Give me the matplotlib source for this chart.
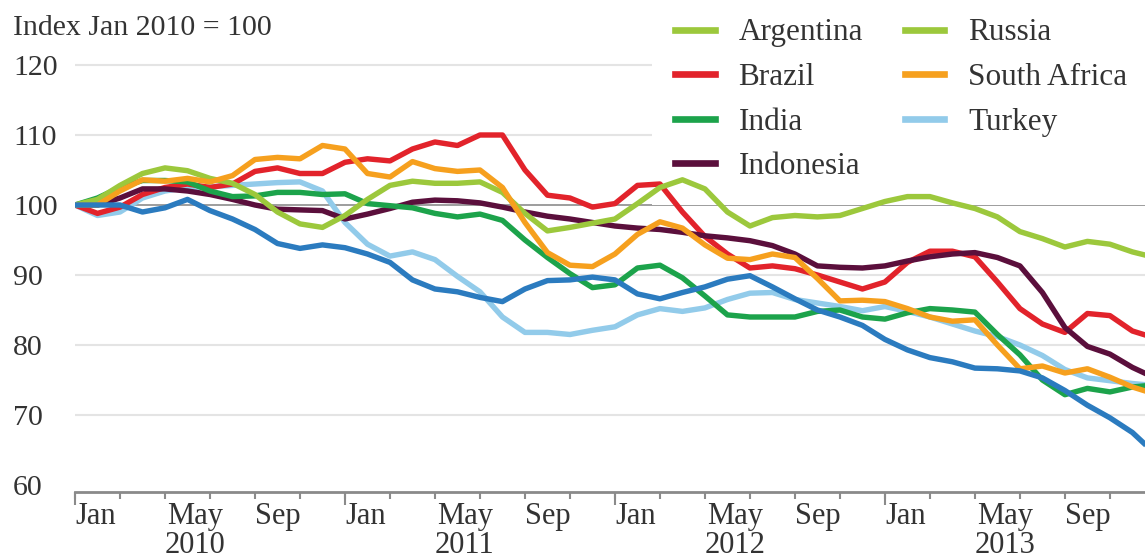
import matplotlib.pyplot as plt
import numpy as np
from matplotlib.lines import Line2D

plt.rcParams['font.family'] = ['Liberation Serif', 'DejaVu Serif']

# monthly index, Jan 2010 = 0 ... Jan 2014 = 48
months = np.arange(49)

argentina = [100, 100, 100, 99.0, 99.6, 100.8, 99.2, 98.0, 96.5, 94.5,
             93.8, 94.3, 93.9, 93.0, 91.8, 89.3, 88.0, 87.6, 86.8, 86.2,
             88.0, 89.2, 89.3, 89.7, 89.3, 87.3, 86.6, 87.5, 88.3, 89.4,
             89.9, 88.3, 86.6, 85.0, 84.0, 82.8, 80.8, 79.3, 78.2, 77.6,
             76.7, 76.6, 76.3, 75.3, 73.5, 71.4, 69.6, 67.5, 64.5]
brazil = [100, 98.8, 99.7, 101.5, 102.5, 103.0, 102.5, 103.0, 104.8, 105.3,
          104.5, 104.5, 106.1, 106.6, 106.3, 108.0, 109.0, 108.5, 110.0, 110.0,
          105.0, 101.4, 101.0, 99.7, 100.2, 102.8, 103.0, 99.0, 95.5, 93.0,
          91.0, 91.3, 90.9, 90.0, 89.0, 88.0, 89.0, 91.8, 93.4, 93.4,
          92.6, 89.0, 85.2, 83.0, 81.8, 84.5, 84.2, 82.0, 81.0]
india = [100, 101.0, 102.5, 103.5, 103.5, 103.3, 102.0, 101.2, 101.3, 101.8,
         101.8, 101.5, 101.6, 100.2, 99.9, 99.6, 98.8, 98.3, 98.7, 97.8,
         95.0, 92.5, 90.2, 88.2, 88.6, 91.0, 91.4, 89.6, 87.0, 84.3,
         84.0, 84.0, 84.0, 84.8, 85.0, 84.0, 83.7, 84.6, 85.2, 85.0,
         84.7, 81.5, 78.6, 75.0, 72.9, 73.8, 73.3, 74.0, 74.3]
indonesia = [100, 100, 101.0, 102.3, 102.3, 102.0, 101.5, 100.8, 100.0, 99.4,
             99.3, 99.2, 98.0, 98.7, 99.5, 100.4, 100.7, 100.6, 100.3, 99.7,
             99.0, 98.4, 98.0, 97.5, 97.0, 96.7, 96.5, 96.1, 95.6, 95.3,
             94.9, 94.2, 93.0, 91.3, 91.1, 91.0, 91.3, 92.0, 92.6, 93.0,
             93.2, 92.5, 91.3, 87.5, 82.5, 79.8, 78.7, 76.8, 75.3]
russia = [100, 100.8, 102.8, 104.5, 105.3, 104.9, 103.8, 103.1, 101.5, 99.0,
          97.3, 96.8, 98.5, 100.8, 102.8, 103.4, 103.1, 103.1, 103.3, 101.8,
          98.8, 96.3, 96.8, 97.4, 98.0, 100.2, 102.5, 103.6, 102.3, 99.0,
          97.0, 98.2, 98.5, 98.3, 98.5, 99.5, 100.5, 101.2, 101.2, 100.3,
          99.5, 98.3, 96.2, 95.2, 94.0, 94.8, 94.4, 93.3, 92.5]
south_africa = [100, 100, 102.0, 103.6, 103.4, 103.8, 103.3, 104.2, 106.5, 106.8,
                106.6, 108.5, 108.0, 104.5, 104.0, 106.2, 105.2, 104.8, 105.0, 102.5,
                97.5, 93.2, 91.4, 91.2, 93.0, 95.8, 97.6, 96.7, 94.3, 92.4,
                92.2, 93.0, 92.5, 89.5, 86.3, 86.4, 86.2, 85.2, 84.0, 83.4,
                83.6, 80.0, 76.6, 77.0, 76.0, 76.6, 75.4, 74.0, 73.0]
turkey = [100, 98.5, 99.0, 101.0, 102.0, 102.5, 102.6, 102.8, 103.0, 103.2,
          103.3, 102.0, 97.5, 94.4, 92.7, 93.3, 92.2, 89.8, 87.6, 84.0,
          81.8, 81.8, 81.5, 82.1, 82.6, 84.3, 85.2, 84.8, 85.3, 86.5,
          87.4, 87.5, 86.5, 86.0, 85.5, 84.9, 85.5, 84.8, 84.0, 83.0,
          82.0, 81.2, 80.0, 78.5, 76.5, 75.3, 74.9, 74.5, 74.2]

years = ['2010', '2011', '2012', '2013']
legend_names = ['Argentina', 'Brazil', 'India', 'Indonesia',
                'Russia', 'South Africa', 'Turkey']

c_lime = '#9cc83c'
c_red = '#e2232b'
c_green = '#1ca34b'
c_purple = '#5b0f3c'
c_orange = '#f6a01e'
c_sky = '#92cbea'
c_blue = '#2b7bbf'
txt = '#333333'

fig = plt.figure(figsize=(11.45, 5.58), dpi=100)
ax = fig.add_axes([75 / 1145, 66 / 558, 1070 / 1145, 441 / 558])

# gridlines
for v in [70, 80, 90, 110, 120]:
    ax.axhline(v, color='#e4e4e4', lw=1.5, zorder=0)
ax.axhline(100, color='#8c8c8c', lw=1.2, zorder=0.5)

lw = 3.9
series = [(turkey, c_sky), (brazil, c_red), (indonesia, c_purple),
          (india, c_green), (russia, c_lime), (south_africa, c_orange),
          (argentina, c_blue)]
for vals, col in series:
    ax.plot(months, vals, color=col, lw=lw, solid_joinstyle='round',
            solid_capstyle='butt', zorder=2)

ax.set_xlim(0, 47.56)
ax.set_ylim(59.0, 122)

for s in ['top', 'right', 'left']:
    ax.spines[s].set_visible(False)
ax.spines['bottom'].set_color('#8a8a8a')
ax.spines['bottom'].set_linewidth(2)

# y axis
ax.set_yticks([60, 70, 80, 90, 100, 110, 120])
ax.tick_params(axis='y', length=0, pad=44.6, labelsize=21.5, labelcolor=txt)
for lbl in ax.get_yticklabels():
    lbl.set_horizontalalignment('left')

# x axis: short ticks every 2 months, long ticks at Jan
ticks = list(range(0, 48, 2))
labels = []
for m in ticks:
    k = m % 12
    if k == 0:
        labels.append('Jan')
    elif k == 4:
        labels.append('May\n' + years[m // 12])
    elif k == 8:
        labels.append('Sep')
    else:
        labels.append('')
ax.set_xticks(ticks)
ax.set_xticklabels(labels)
ax.set_xticks([0, 12, 24, 36], minor=True)
ax.xaxis.remove_overlapping_locs = False
ax.tick_params(axis='x', which='major', length=5, width=1.5, color='#8a8a8a',
               labelsize=22, labelcolor=txt, pad=2)
ax.tick_params(axis='x', which='minor', length=9.5, width=1.5, color='#8a8a8a')
for lbl in ax.get_xticklabels():
    lbl.set_horizontalalignment('left')
    lbl.set_multialignment('center')
    lbl.set_linespacing(1.02)

fig.text(13 / 1145, 1 - 28 / 558, 'Index Jan 2010 = 100', fontsize=21.5,
         color=txt, va='center', ha='left')

# legend (colours as printed in the key); sits under the lines
handle_cols = [c_lime, c_red, c_green, c_purple, c_lime, c_orange, c_sky]
handles = [Line2D([], [], color=c, lw=4.8) for c in handle_cols]
leg = ax.legend(handles, legend_names, ncol=2, loc='upper left',
                bbox_to_anchor=(652 / 1145, 1 + 5 / 558),
                bbox_transform=fig.transFigure, fontsize=22.5,
                frameon=True, fancybox=False, borderpad=0.75,
                handlelength=1.25, handletextpad=0.77, columnspacing=1.35,
                labelspacing=0.5, borderaxespad=0)
leg.get_frame().set_facecolor('white')
leg.get_frame().set_edgecolor('none')
leg.get_frame().set_alpha(1)
leg.set_zorder(1)
for t in leg.get_texts():
    t.set_color(txt)

fig.savefig('out.png', dpi=100)
